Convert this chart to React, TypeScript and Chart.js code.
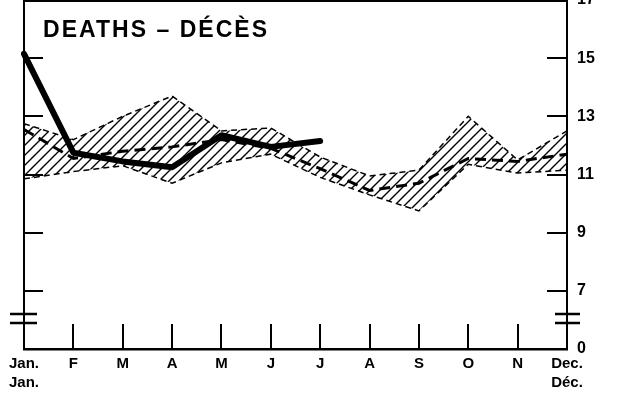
import { useEffect, useRef } from 'react';
import { Chart, registerables } from 'chart.js';

Chart.register(...registerables);

const months: (string | string[])[] = [['Jan.', 'Jan.'], 'F', 'M', 'A', 'M', 'J', 'J', 'A', 'S', 'O', 'N', ['Dec.', 'Déc.']];
const currentYear = [15.15, 11.75, 11.45, 11.25, 12.35, 11.95, 12.15, null, null, null, null, null];
const averageRate = [12.55, 11.55, 11.8, 11.95, 12.2, 11.9, 11.2, 10.45, 10.7, 11.55, 11.45, 11.7];
const rangeHigh = [12.75, 12.2, 13.0, 13.7, 12.5, 12.6, 11.6, 10.95, 11.15, 13.0, 11.5, 12.5];
const rangeLow = [10.85, 11.1, 11.3, 10.7, 11.4, 11.7, 10.9, 10.3, 9.75, 11.35, 11.05, 11.15];
const yTicks = [5, 7, 9, 11, 13, 15, 17];
const brokenBaseValue = 5;
const brokenBaseLabel = '0';
const titleText = 'DEATHS – DÉCÈS';

const FONT = '"Liberation Sans", Arial, sans-serif';

export default function App() {
  const canvasRef = useRef<HTMLCanvasElement | null>(null);

  useEffect(() => {
    const canvas = canvasRef.current;
    if (!canvas) return;
    const ctx = canvas.getContext('2d')!;

    const pc = document.createElement('canvas');
    pc.width = 10;
    pc.height = 10;
    const pctx = pc.getContext('2d')!;
    pctx.strokeStyle = '#000';
    pctx.lineWidth = 1.4;
    pctx.beginPath();
    pctx.moveTo(0, 10);
    pctx.lineTo(10, 0);
    pctx.moveTo(-1, 1);
    pctx.lineTo(1, -1);
    pctx.moveTo(9, 11);
    pctx.lineTo(11, 9);
    pctx.stroke();
    const hatch = ctx.createPattern(pc, 'repeat')!;

    const framePlugin = {
      id: 'frame',
      afterDraw(chart: any) {
        const c = chart.ctx as CanvasRenderingContext2D;
        const { left, right, top, bottom } = chart.chartArea;
        const x = chart.scales.x;
        const y = chart.scales.y;
        c.save();
        c.strokeStyle = '#000';
        c.lineWidth = 2;
        c.beginPath();
        c.moveTo(left, bottom);
        c.lineTo(left, top + 1);
        c.lineTo(right, top + 1);
        c.stroke();
        // month ticks
        c.beginPath();
        for (let i = 1; i < months.length - 1; i++) {
          const px = Math.round(x.getPixelForValue(i));
          c.moveTo(px, bottom);
          c.lineTo(px, bottom - 25);
        }
        c.stroke();
        // value ticks on both sides
        c.beginPath();
        yTicks.forEach((v) => {
          if (v <= brokenBaseValue || v >= 17) return;
          const py = Math.round(y.getPixelForValue(v));
          c.moveTo(right, py);
          c.lineTo(right - 20, py);
          c.moveTo(left, py);
          c.lineTo(left + 19, py);
        });
        c.stroke();
        // axis break marks
        c.lineWidth = 2.5;
        c.beginPath();
        [bottom - 35, bottom - 26].forEach((by) => {
          c.moveTo(left - 14, by);
          c.lineTo(left + 13, by);
          c.moveTo(right - 12, by);
          c.lineTo(right + 13, by);
        });
        c.stroke();
        // title
        c.fillStyle = '#000';
        c.font = 'bold 23px ' + FONT;
        c.textBaseline = 'alphabetic';
        c.textAlign = 'left';
        const natural = c.measureText(titleText).width;
        const spacing = (224 - natural) / (titleText.length - 1);
        (c as any).letterSpacing = spacing + 'px';
        c.fillText(titleText, left + 19, 37);
        c.restore();
      },
    };

    const chart = new Chart(ctx, {
      type: 'line',
      data: {
        labels: months,
        datasets: [
          {
            label: 'Current year',
            data: currentYear,
            borderColor: '#000',
            borderWidth: 6,
            borderCapStyle: 'round',
            borderJoinStyle: 'round',
            pointRadius: 0,
            fill: false,
            tension: 0,
          },
          {
            label: 'Average',
            data: averageRate,
            borderColor: '#000',
            borderWidth: 3,
            borderDash: [11, 6],
            pointRadius: 0,
            fill: false,
            tension: 0,
          },
          {
            label: 'High',
            data: rangeHigh,
            borderColor: '#000',
            borderWidth: 1.5,
            borderDash: [6, 4],
            pointRadius: 0,
            fill: { target: 3 },
            backgroundColor: hatch as any,
            tension: 0,
          },
          {
            label: 'Low',
            data: rangeLow,
            borderColor: '#000',
            borderWidth: 1.5,
            borderDash: [6, 4],
            pointRadius: 0,
            fill: false,
            tension: 0,
          },
        ],
      },
      options: {
        responsive: false,
        animation: false,
        devicePixelRatio: 1,
        layout: { padding: { left: 24, right: 0, top: 0, bottom: 0 } },
        plugins: {
          legend: { display: false },
          tooltip: { enabled: false },
          title: { display: false },
        },
        scales: {
          x: {
            type: 'category',
            offset: false,
            grid: { display: false, drawTicks: false },
            border: { display: true, color: '#000', width: 2.5 },
            ticks: {
              color: '#000',
              font: { family: FONT, size: 15, weight: 'bold', lineHeight: 1.22 },
              padding: 6,
              maxRotation: 0,
              autoSkip: false,
            },
            afterFit(s: any) {
              s.height = 51;
              s.paddingLeft = 0;
              s.paddingRight = 0;
            },
          },
          y: {
            type: 'linear',
            position: 'right',
            min: 5,
            max: 17,
            grid: { display: false, drawTicks: false },
            border: { display: true, color: '#000', width: 2 },
            afterBuildTicks(s: any) {
              s.ticks = yTicks.map((v) => ({ value: v }));
            },
            ticks: {
              color: '#000',
              font: { family: FONT, size: 16, weight: 'bold' },
              padding: 10,
              callback: (v: any) => (v === brokenBaseValue ? brokenBaseLabel : String(v)),
            },
            afterFit(s: any) {
              s.width = 50;
              s.paddingTop = 0;
              s.paddingBottom = 0;
            },
          },
        },
      },
      plugins: [framePlugin],
    });

    return () => chart.destroy();
  }, []);

  return (
    <div style={{ position: 'absolute', left: 0, top: 0, width: 617, height: 400, background: '#fff' }}>
      <canvas ref={canvasRef} width={617} height={400} style={{ display: 'block' }} />
    </div>
  );
}
